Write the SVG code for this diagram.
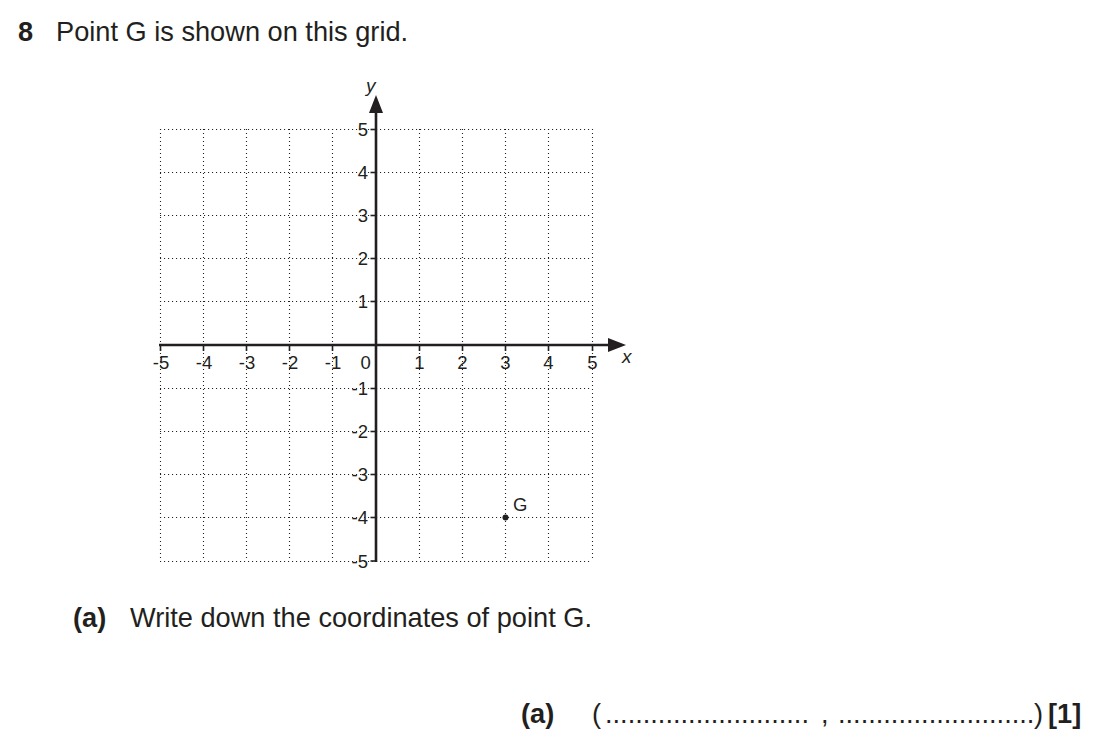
<svg xmlns="http://www.w3.org/2000/svg" width="1101" height="743" viewBox="0 0 1101 743">
<style>
text{font-family:"Liberation Sans",Arial,sans-serif;fill:#231f20}
.t{font-size:27.2px}
.b{font-weight:bold}
.n{font-size:18.5px}
.ny{font-size:18.5px;text-anchor:end}
.nx{font-size:18.5px;text-anchor:middle}
.it{font-size:19px;font-style:italic}
.grid line{stroke:#231f20;stroke-width:1.1;stroke-dasharray:1.1 2.9}
.axis{stroke:#231f20;stroke-width:2.6;fill:none}
.tick{stroke:#231f20;stroke-width:1.6}
</style>
<rect width="1101" height="743" fill="#fff"/>
<g id="title">
<text class="t b" x="18" y="41">8</text>
<text class="t" x="56" y="41">Point G is shown on this grid.</text>
</g>
<g id="grid" class="grid">
<line x1="160.5" y1="129" x2="160.5" y2="561"/>
<line x1="203.5" y1="129" x2="203.5" y2="561"/>
<line x1="246.5" y1="129" x2="246.5" y2="561"/>
<line x1="289.5" y1="129" x2="289.5" y2="561"/>
<line x1="332.5" y1="129" x2="332.5" y2="561"/>
<line x1="419.5" y1="129" x2="419.5" y2="561"/>
<line x1="462.5" y1="129" x2="462.5" y2="561"/>
<line x1="505.5" y1="129" x2="505.5" y2="561"/>
<line x1="548.5" y1="129" x2="548.5" y2="561"/>
<line x1="592.5" y1="129" x2="592.5" y2="561"/>
<line x1="160" y1="129.5" x2="592" y2="129.5"/>
<line x1="160" y1="172.5" x2="592" y2="172.5"/>
<line x1="160" y1="215.5" x2="592" y2="215.5"/>
<line x1="160" y1="258.5" x2="592" y2="258.5"/>
<line x1="160" y1="301.5" x2="592" y2="301.5"/>
<line x1="160" y1="388.5" x2="592" y2="388.5"/>
<line x1="160" y1="431.5" x2="592" y2="431.5"/>
<line x1="160" y1="474.5" x2="592" y2="474.5"/>
<line x1="160" y1="517.5" x2="592" y2="517.5"/>
<line x1="160" y1="561.5" x2="592" y2="561.5"/>
</g>
<g id="axes">
<line class="axis" x1="376" y1="562" x2="376" y2="108"/>
<polygon points="376,95 383,113 369,113" fill="#231f20"/>
<line class="axis" x1="159" y1="345" x2="612" y2="345"/>
<polygon points="626,345 608,338 608,352" fill="#231f20"/>
<g class="tick">
<line x1="370.5" y1="129.5" x2="376" y2="129.5"/>
<line x1="370.5" y1="172.5" x2="376" y2="172.5"/>
<line x1="370.5" y1="215.5" x2="376" y2="215.5"/>
<line x1="370.5" y1="258.5" x2="376" y2="258.5"/>
<line x1="370.5" y1="301.5" x2="376" y2="301.5"/>
<line x1="370.5" y1="388.5" x2="376" y2="388.5"/>
<line x1="370.5" y1="431.5" x2="376" y2="431.5"/>
<line x1="370.5" y1="474.5" x2="376" y2="474.5"/>
<line x1="370.5" y1="517.5" x2="376" y2="517.5"/>
<line x1="370.5" y1="561" x2="376" y2="561"/>
<line x1="160.5" y1="345" x2="160.5" y2="351"/>
<line x1="203.5" y1="345" x2="203.5" y2="351"/>
<line x1="246.5" y1="345" x2="246.5" y2="351"/>
<line x1="289.5" y1="345" x2="289.5" y2="351"/>
<line x1="332.5" y1="345" x2="332.5" y2="351"/>
<line x1="419.5" y1="345" x2="419.5" y2="351"/>
<line x1="462.5" y1="345" x2="462.5" y2="351"/>
<line x1="505.5" y1="345" x2="505.5" y2="351"/>
<line x1="548.5" y1="345" x2="548.5" y2="351"/>
<line x1="592.5" y1="345" x2="592.5" y2="351"/>
</g>
<text class="it" x="366" y="92">y</text>
<text class="it" x="622" y="363">x</text>
</g>
<g id="ylabels">
<text class="ny" x="368" y="136">5</text>
<text class="ny" x="368" y="179">4</text>
<text class="ny" x="368" y="222">3</text>
<text class="ny" x="368" y="265">2</text>
<text class="ny" x="368" y="308">1</text>
<text class="ny" x="368" y="395">-1</text>
<text class="ny" x="368" y="438">-2</text>
<text class="ny" x="368" y="481">-3</text>
<text class="ny" x="368" y="524">-4</text>
<text class="ny" x="368" y="567.5">-5</text>
</g>
<g id="xlabels">
<text class="nx" x="161" y="369.3">-5</text>
<text class="nx" x="204" y="369.3">-4</text>
<text class="nx" x="247" y="369.3">-3</text>
<text class="nx" x="290" y="369.3">-2</text>
<text class="nx" x="333" y="369.3">-1</text>
<text class="nx" x="365.7" y="369.3">0</text>
<text class="nx" x="419.5" y="369.3">1</text>
<text class="nx" x="462.5" y="369.3">2</text>
<text class="nx" x="505.5" y="369.3">3</text>
<text class="nx" x="548.5" y="369.3">4</text>
<text class="nx" x="592.5" y="369.3">5</text>
</g>
<g id="pointG">
<circle cx="505.5" cy="517.5" r="3" fill="#231f20"/>
<text class="n" x="513" y="510.7">G</text>
</g>
<g id="question">
<text class="t b" x="73" y="627">(a)</text>
<text class="t" x="130" y="627">Write down the coordinates of point G.</text>
</g>
<g id="answer">
<text class="t b" x="521" y="723">(a)</text>
<text class="t" x="592" y="723">(</text>
<text class="t" x="605" y="723">...........................</text>
<text class="t" x="821" y="723">,</text>
<text class="t" x="838" y="723">..........................</text>
<text class="t" x="1034" y="723">)</text>
<text class="t b" x="1048" y="723">[1]</text>
</g>
</svg>
